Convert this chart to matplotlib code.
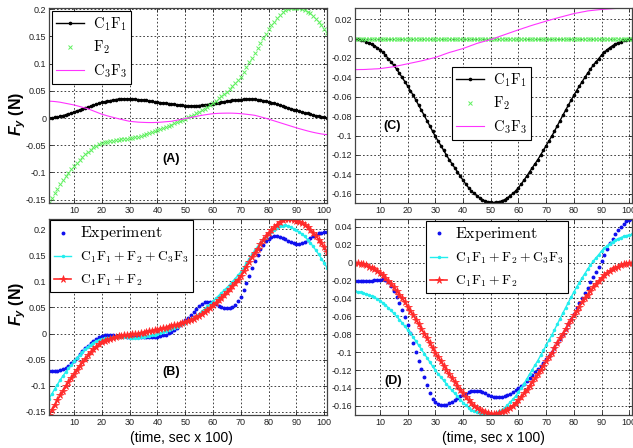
import matplotlib
matplotlib.use("Agg")
import matplotlib.pyplot as plt
from matplotlib.font_manager import FontProperties
import numpy as np

plt.rcParams['font.family'] = ['Liberation Sans', 'DejaVu Sans']
plt.rcParams['mathtext.fontset'] = 'custom'
plt.rcParams['mathtext.it'] = 'Liberation Sans:italic:bold'
plt.rcParams['mathtext.rm'] = 'Liberation Sans:bold'
plt.rcParams['mathtext.bf'] = 'Liberation Sans:bold'

# ---------------- data ----------------
t = list(range(1, 102))  # time, sec x 100

# Panel A components
a_c1f1 = [0.000, 0.0005, 0.001, 0.002, 0.003, 0.0045, 0.006, 0.0075, 0.009, 0.011,
          0.013, 0.0148, 0.0165, 0.0183, 0.020, 0.0218, 0.0237, 0.0255, 0.0273, 0.029,
          0.030, 0.031, 0.032, 0.033, 0.034, 0.0347, 0.0352, 0.0355, 0.0354, 0.035,
          0.0347, 0.0343, 0.0339, 0.0335, 0.033, 0.0322, 0.0314, 0.0306, 0.0298, 0.029,
          0.0284, 0.0278, 0.0272, 0.0266, 0.026, 0.0253, 0.0246, 0.024, 0.0235, 0.023,
          0.0227, 0.0225, 0.0225, 0.0227, 0.023, 0.0235, 0.0241, 0.0248, 0.0254, 0.026,
          0.027, 0.028, 0.029, 0.030, 0.031, 0.0318, 0.0326, 0.0333, 0.0338, 0.034,
          0.0345, 0.0348, 0.035, 0.0349, 0.0345, 0.0338, 0.033, 0.032, 0.031, 0.030,
          0.0285, 0.027, 0.0253, 0.0237, 0.022, 0.0204, 0.0188, 0.0172, 0.0156, 0.014,
          0.0126, 0.0112, 0.0098, 0.0084, 0.007, 0.0057, 0.0044, 0.0032, 0.002, 0.001,
          0.000]
a_f2 = [-0.156, -0.147, -0.138, -0.1295, -0.121, -0.1138, -0.1068, -0.1002, -0.094, -0.088,
        -0.0823, -0.0768, -0.0716, -0.0666, -0.062, -0.0578, -0.054, -0.0507, -0.048, -0.046,
        -0.0445, -0.0433, -0.0423, -0.0415, -0.0408, -0.0401, -0.0394, -0.0387, -0.038, -0.0372,
        -0.0363, -0.0353, -0.0342, -0.033, -0.031, -0.0292, -0.0274, -0.0256, -0.0238, -0.022,
        -0.020, -0.018, -0.016, -0.014, -0.012, -0.0098, -0.0076, -0.0054, -0.0032, -0.001,
        0.0012, 0.0035, 0.006, 0.0085, 0.011, 0.014, 0.0173, 0.0208, 0.0244, 0.028,
        0.032, 0.036, 0.040, 0.044, 0.048, 0.053, 0.058, 0.0635, 0.0695, 0.076,
        0.0845, 0.093, 0.102, 0.111, 0.120, 0.129, 0.138, 0.147, 0.155, 0.163,
        0.170, 0.177, 0.1835, 0.190, 0.195, 0.1985, 0.2005, 0.2015, 0.202, 0.202,
        0.2015, 0.2005, 0.1985, 0.1955, 0.192, 0.1875, 0.1825, 0.177, 0.171, 0.164,
        0.157]
a_c3f3 = [0.031, 0.0307, 0.0303, 0.0297, 0.029, 0.028, 0.027, 0.026, 0.025, 0.024,
          0.0226, 0.0212, 0.0198, 0.0184, 0.017, 0.015, 0.013, 0.011, 0.009, 0.007,
          0.0055, 0.004, 0.0026, 0.0013, 0.000, -0.0013, -0.0025, -0.0037, -0.0049, -0.006,
          -0.0065, -0.007, -0.0075, -0.0078, -0.008, -0.0082, -0.0083, -0.0083, -0.0082, -0.008,
          -0.0077, -0.0073, -0.0068, -0.0064, -0.006, -0.005, -0.004, -0.003, -0.002, -0.001,
          0.000, 0.001, 0.002, 0.003, 0.004, 0.005, 0.0058, 0.0066, 0.0073, 0.008,
          0.0083, 0.0086, 0.0088, 0.0089, 0.009, 0.009, 0.0089, 0.0087, 0.0084, 0.008,
          0.0075, 0.0069, 0.0063, 0.0057, 0.005, 0.0037, 0.0023, 0.0009, -0.0005, -0.002,
          -0.0036, -0.0052, -0.0068, -0.0084, -0.010, -0.0116, -0.0132, -0.0148, -0.0164, -0.018,
          -0.0195, -0.0209, -0.0223, -0.0237, -0.025, -0.0262, -0.0273, -0.0283, -0.0292, -0.030,
          -0.0305]

# Panel C components (F2 is zero here)
c_c1f1 = [0.0, -0.0005, -0.0011, -0.0020, -0.0031, -0.0043, -0.0057, -0.0073, -0.0093, -0.0115,
          -0.0142, -0.0170, -0.0207, -0.0240, -0.0275, -0.0315, -0.0357, -0.0400, -0.0444, -0.0490,
          -0.0536, -0.0585, -0.0636, -0.0688, -0.0740, -0.0793, -0.0847, -0.0901, -0.0955, -0.1008,
          -0.1056, -0.1104, -0.1152, -0.1200, -0.1248, -0.1290, -0.1332, -0.1375, -0.1418, -0.1460,
          -0.1500, -0.1537, -0.1570, -0.1597, -0.1620, -0.1643, -0.1660, -0.1673, -0.1682, -0.1688,
          -0.1690,
          -0.1688, -0.1682, -0.1673, -0.1660, -0.1643, -0.1620, -0.1597, -0.1570, -0.1537, -0.1500,
          -0.1460, -0.1418, -0.1375, -0.1332, -0.1290, -0.1248, -0.1200, -0.1152, -0.1104, -0.1056,
          -0.1008, -0.0955, -0.0901, -0.0847, -0.0793, -0.0740, -0.0688, -0.0636, -0.0585, -0.0536,
          -0.0490, -0.0444, -0.0400, -0.0357, -0.0315, -0.0275, -0.0240, -0.0207, -0.0170, -0.0142,
          -0.0115, -0.0093, -0.0073, -0.0057, -0.0043, -0.0031, -0.0020, -0.0011, -0.0005, 0.0]
c_f2 = [0.0] * 101
c_c3f3 = [-0.0320, -0.0320, -0.0319, -0.0319, -0.0318, -0.0316, -0.0315, -0.0313, -0.0312, -0.0310,
          -0.0306, -0.0302, -0.0298, -0.0294, -0.0290, -0.0284, -0.0278, -0.0272, -0.0266, -0.0260,
          -0.0254, -0.0248, -0.0242, -0.0236, -0.0230, -0.0223, -0.0216, -0.0209, -0.0202, -0.0195,
          -0.0185, -0.0175, -0.0164, -0.0154, -0.0144, -0.0136, -0.0128, -0.0119, -0.0111, -0.0103,
          -0.0092, -0.0082, -0.0071, -0.0061, -0.0050, -0.0042, -0.0034, -0.0026, -0.0018, -0.0010,
          0.0000, 0.0010, 0.0020, 0.0030, 0.0040, 0.0050, 0.0060, 0.0070, 0.0080, 0.0090,
          0.0099, 0.0109, 0.0118, 0.0128, 0.0137, 0.0146, 0.0154, 0.0163, 0.0171, 0.0180,
          0.0188, 0.0196, 0.0204, 0.0212, 0.0220, 0.0227, 0.0235, 0.0242, 0.0250, 0.0257,
          0.0263, 0.0268, 0.0274, 0.0279, 0.0285, 0.0288, 0.0291, 0.0294, 0.0297, 0.0300,
          0.0302, 0.0304, 0.0306, 0.0308, 0.0310, 0.0311, 0.0312, 0.0313, 0.0314, 0.0315,
          0.0315]

# Experiments
b_exp = [-0.0720, -0.0719, -0.0716, -0.0710, -0.0700, -0.0685, -0.0657, -0.0620, -0.0572, -0.0520,
         -0.0460, -0.0400, -0.0340, -0.0283, -0.0230, -0.0182, -0.0138, -0.0100, -0.0068, -0.0045,
         -0.0032, -0.0026, -0.0027, -0.0034, -0.0042, -0.0048, -0.0052, -0.0055, -0.0057, -0.0058,
         -0.0059, -0.0060, -0.0061, -0.0062, -0.0063, -0.0064, -0.0064, -0.0063, -0.0061, -0.0057,
         -0.0048, -0.0035, -0.0018, 0.0003, 0.0030, 0.0065, 0.0108, 0.0155, 0.0205, 0.0255,
         0.0303, 0.0350, 0.0412, 0.0473, 0.0528, 0.0570, 0.0598, 0.0608, 0.0600, 0.0583,
         0.0560, 0.0537, 0.0515, 0.0497, 0.0487, 0.0490, 0.0510, 0.0555, 0.0620, 0.0710,
         0.0830, 0.0960, 0.1105, 0.1250, 0.1385, 0.1510, 0.1615, 0.1700, 0.1765, 0.1815,
         0.1848, 0.1862, 0.1860, 0.1848, 0.1828, 0.1805, 0.1780, 0.1756, 0.1735, 0.1722,
         0.1720, 0.1733, 0.1760, 0.1795, 0.1830, 0.1865, 0.1895, 0.1918, 0.1935, 0.1945,
         0.1950]
d_exp = [-0.0206, -0.0206, -0.0206, -0.0206, -0.0205, -0.0204, -0.0202, -0.0198, -0.0193, -0.0188,
         -0.0186, -0.0192, -0.0215, -0.0260, -0.0320, -0.0385, -0.0455, -0.0528, -0.0605, -0.0695,
         -0.0790, -0.0895, -0.1000, -0.1095, -0.1185, -0.1275, -0.1370, -0.1455, -0.1520, -0.1560,
         -0.1580, -0.1590, -0.1592, -0.1585, -0.1572, -0.1555, -0.1535, -0.1515, -0.1495, -0.1478,
         -0.1462, -0.1448, -0.1438, -0.1432, -0.1432, -0.1438, -0.1448, -0.1460, -0.1475, -0.1488,
         -0.1497, -0.1502, -0.1502, -0.1498, -0.1490, -0.1478, -0.1463, -0.1446, -0.1425, -0.1403,
         -0.1380, -0.1355, -0.1322, -0.1288, -0.1255, -0.1222, -0.1188, -0.1155, -0.1118, -0.1080,
         -0.1040, -0.0998, -0.0950, -0.0903, -0.0856, -0.0800, -0.0740, -0.0680, -0.0624, -0.0568,
         -0.0512, -0.0456, -0.0397, -0.0338, -0.0280, -0.0218, -0.0157, -0.0100, -0.0045, 0.0020,
         0.0086, 0.0150, 0.0215, 0.0270, 0.0320, 0.0365, 0.0402, 0.0437, 0.0465, 0.0478,
         0.0487]

xticks = [10, 20, 30, 40, 50, 60, 70, 80, 90, 100]
yticks_A = [-0.15, -0.1, -0.05, 0, 0.05, 0.1, 0.15, 0.2]
yticks_C = [-0.16, -0.14, -0.12, -0.1, -0.08, -0.06, -0.04, -0.02, 0, 0.02]
yticks_B = [-0.15, -0.1, -0.05, 0, 0.05, 0.1, 0.15, 0.2]
yticks_D = [-0.16, -0.14, -0.12, -0.1, -0.08, -0.06, -0.04, -0.02, 0, 0.02, 0.04]

lab_c1f1 = r'$\mathrm{C_1F_1}$'
lab_f2 = r'$\mathrm{F_2}$'
lab_c3f3 = r'$\mathrm{C_3F_3}$'
lab_exp = r'$\mathrm{Experiment}$'
lab_sum3 = r'$\mathrm{C_1F_1+F_2+C_3F_3}$'
lab_sum2 = r'$\mathrm{C_1F_1+F_2}$'

# ---------------- figure ----------------
W, H = 633, 448
fig = plt.figure(figsize=(W / 100, H / 100), dpi=100)

def box(l, t_, r, b):
    return [l / W, 1 - b / H, (r - l) / W, (b - t_) / H]

axA = fig.add_axes(box(49, 8, 327, 203))
axC = fig.add_axes(box(355, 8, 632, 203))
axB = fig.add_axes(box(49, 219, 327, 415))
axD = fig.add_axes(box(355, 219, 632, 415))

C_BLACK = 'black'
C_GREEN = '#5ef05e'
C_MAG = '#ff33ff'
C_BLUE = '#1010ee'
C_CYAN = '#22eeee'
C_RED = '#ff2a2a'

def style(ax, yticks, ylim):
    ax.set_xlim(1, 101)
    ax.set_ylim(*ylim)
    ax.set_xticks(xticks)
    ax.set_xticklabels([str(v) for v in xticks])
    ax.set_yticks(yticks)
    ax.set_yticklabels(['%g' % v for v in yticks])
    ax.tick_params(direction='in', length=3, width=0.6, labelsize=6.5, pad=2,
                   top=True, right=True, colors='#222222')
    ax.grid(True, color='#222222', linestyle=(0, (2, 2.5)), linewidth=0.6)
    for s in ax.spines.values():
        s.set_color('#444444')
        s.set_linewidth(0.9)

def legend(ax, handles, labels, base, hl, sizes, ls, **kw):
    prop = FontProperties(family='DejaVu Serif', size=base, math_fontfamily='cm')
    lg = ax.legend(handles, labels, prop=prop, fancybox=False, framealpha=1,
                   edgecolor='black', numpoints=1, handlelength=hl,
                   handletextpad=0.6, borderpad=0.3, labelspacing=ls, **kw)
    lg.get_frame().set_linewidth(0.8)
    for txt, s in zip(lg.get_texts(), sizes):
        txt.set_fontsize(s)
    return lg

# Panel A
hA1, = axA.plot(t, a_c1f1, color=C_BLACK, marker='.', ms=3.2, lw=1.0)
hA2, = axA.plot(t, a_f2, color=C_GREEN, marker='x', ms=3.2, mew=0.7, ls='none')
hA3, = axA.plot(t, a_c3f3, color=C_MAG, lw=0.8)
style(axA, yticks_A, (-0.156, 0.202))
legend(axA, [hA1, hA2, hA3], [lab_c1f1, lab_f2, lab_c3f3], 10.5, 1.9,
       [10.5] * 3, 0.4, loc='upper left', borderaxespad=0.2)
axA.text(45, -0.076, '(A)', fontsize=9, fontweight='bold', ha='center', va='center')

# Panel C
hC1, = axC.plot(t, c_c1f1, color=C_BLACK, marker='.', ms=3.2, lw=1.0)
hC2, = axC.plot(t, c_f2, color=C_GREEN, marker='x', ms=3.2, mew=0.7, ls='none')
hC3, = axC.plot(t, c_c3f3, color=C_MAG, lw=0.8)
style(axC, yticks_C, (-0.1695, 0.0315))
legend(axC, [hC1, hC2, hC3], [lab_c1f1, lab_f2, lab_c3f3], 10.5, 1.9,
       [10.5] * 3, 0.4, loc='upper left', bbox_to_anchor=(0.35, 0.697),
       borderaxespad=0)
axC.text(14.5, -0.090, '(C)', fontsize=9, fontweight='bold', ha='center', va='center')

# Panel B : sums of the panel-A components
b_sum2 = [p + q for p, q in zip(a_c1f1, a_f2)]
b_sum3 = [p + q + r for p, q, r in zip(a_c1f1, a_f2, a_c3f3)]
hB1, = axB.plot(t, b_exp, color=C_BLUE, marker='.', ms=3.6, ls='none')
hB2, = axB.plot(t, b_sum3, color=C_CYAN, marker='.', ms=3.0, lw=1.0)
hB3, = axB.plot(t, b_sum2, color=C_RED, marker='*', ms=5.5, mew=0.5, lw=1.2)
style(axB, yticks_B, (-0.156, 0.2195))
legend(axB, [hB1, hB2, hB3], [lab_exp, lab_sum3, lab_sum2], 9.8, 1.25,
       [11.5, 9.8, 9.8], 0.55, loc='upper left', borderaxespad=0.1)
axB.text(45, -0.073, '(B)', fontsize=9, fontweight='bold', ha='center', va='center')

# Panel D : sums of the panel-C components
d_sum2 = [p + q for p, q in zip(c_c1f1, c_f2)]
d_sum3 = [p + q + r for p, q, r in zip(c_c1f1, c_f2, c_c3f3)]
hD1, = axD.plot(t, d_exp, color=C_BLUE, marker='.', ms=3.6, ls='none')
hD2, = axD.plot(t, d_sum3, color=C_CYAN, marker='.', ms=3.0, lw=1.0)
hD3, = axD.plot(t, d_sum2, color=C_RED, marker='*', ms=5.5, mew=0.5, lw=1.2)
style(axD, yticks_D, (-0.1702, 0.0488))
legend(axD, [hD1, hD2, hD3], [lab_exp, lab_sum3, lab_sum2], 9.8, 1.25,
       [11.5, 9.8, 9.8], 0.55, loc='upper left',
       bbox_to_anchor=(0.256, 0.99), borderaxespad=0)
axD.text(14.7, -0.132, '(D)', fontsize=9, fontweight='bold', ha='center', va='center')

# axis labels
for yc in (114, 304):
    fig.text(18 / W, 1 - yc / H, r'$F_y$ (N)', rotation=90, fontsize=11.5,
             fontweight='bold', ha='center', va='center')
fig.text(181 / W, 1 - 438 / H, '(time, sec x 100)', fontsize=10, ha='center', va='center')
fig.text(493 / W, 1 - 438 / H, '(time, sec x 100)', fontsize=10, ha='center', va='center')

fig.savefig('out.png', dpi=100, facecolor='white')
